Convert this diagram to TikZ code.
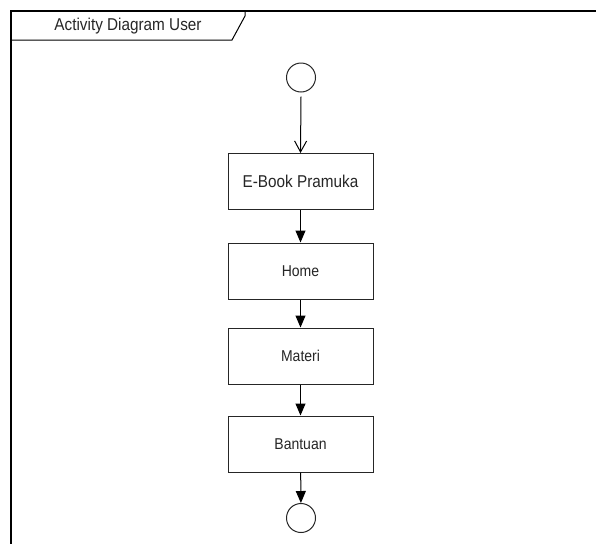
\documentclass[tikz,border=0pt]{standalone}
\usepackage{fontspec}
\setmainfont{Liberation Sans}
\usetikzlibrary{arrows.meta}
\newcommand{\vstr}[1]{\scalebox{1}[1.12]{#1}}
\begin{document}
\begin{tikzpicture}[x=1pt,y=-1pt,
  actbox/.style={draw=black!85,line width=1pt,minimum width=145pt,minimum height=56pt,inner sep=0pt,text=black!85,font=\fontsize{14}{16}\selectfont},
  state/.style={draw=black!85,line width=1pt,circle,minimum size=29pt,inner sep=0pt},
  flow/.style={draw=black,line width=1pt,-{Triangle[length=12pt,width=10pt]}},
  openflow/.style={draw=black,line width=1pt,-{Straight Barb[length=11pt,width=12pt]}},
  framel/.style={draw=black,line width=1.5pt}]
\useasboundingbox (0,0) rectangle (596,544);
\fill[white] (0,0) rectangle (596,544);
% frame
\draw[framel] (596,11) -- (11,11) -- (11,544);
\draw[line width=1pt,black] (11,40) -- (232,40) -- (245,16) -- (245,11);
\node[text=black!85,font=\fontsize{15.3}{17}\selectfont] (title) at (128,26) {\vstr{Activity Diagram User}};
% nodes
\node[state] (start) at (301,77.5) {};
\node[actbox,font=\fontsize{15.3}{17}\selectfont] (ebook) at (300.5,181.5) {\vstr{E-Book Pramuka}};
\node[actbox] (home) at (300.5,271) {\vstr{Home}};
\node[actbox] (materi) at (300.5,356) {\vstr{Materi}};
\node[actbox] (bantuan) at (300.5,444) {\vstr{Bantuan}};
\node[state] (end) at (301,518) {};
% edges
\draw[openflow] ([yshift=-4pt]start.south) -- (ebook.north);
\draw[flow] (ebook) -- (home);
\draw[flow] (home) -- (materi);
\draw[flow] (materi) -- (bantuan);
\draw[flow] (bantuan) -- (end);
\end{tikzpicture}
\end{document}
